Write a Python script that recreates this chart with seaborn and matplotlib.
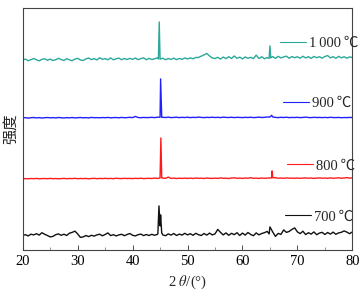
import numpy as np
import matplotlib
matplotlib.use('Agg')
import matplotlib.pyplot as plt
import seaborn as sns
import pandas as pd
from matplotlib.lines import Line2D
from matplotlib.legend import Legend
from matplotlib.ticker import MultipleLocator

# XRD patterns, 2theta grid every 0.5 deg (20..80), intensities
two_theta = np.linspace(20, 80, 121)

int_1000 = [0, 0.8, -0.8, 0.3, 1.4, 0.2, -0.9, 0.6, 1.2, -0.4,
            0.8, -0.6, 0.2, 1.6, 0.4, -0.5, 1.2, 0.1, -0.8, 0.9,
            1.6, 0.0, -0.6, 1.0, 1.9, 0.3, 1.3, 0.0, 2.2, 0.6,
            1.3, 0.2, 2.0, 0.1, 1.2, 1.8, 0.2, 1.5, 0.4, 1.6,
            0.5, 1.9, 0.3, 1.3, 2.1, 0.2, 1.6, 0.4, 1.2, 2.0,
            0.8, 1.8, 0.2, 1.4, 0.5, 1.8, 0.3, 1.5, 0.6, 2.0,
            1.0, 2.0, 1.2, 2.4, 2.5, 3.8, 5.0, 6.5, 4.0, 2.0,
            1.4, 2.6, 0.9, 2.9, 1.3, 3.2, 1.5, 3.9, 1.6, 2.8,
            1.0, 3.0, 1.6, 2.6, 1.3, 4.8, 1.4, 3.2, 1.2, 2.4,
            14.0, 3.4, 1.5, 3.6, 2.0, 3.0, 3.8, 1.6, 3.4, 2.2,
            3.2, 1.7, 3.7, 2.0, 3.3, 1.5, 3.5, 2.2, 3.2, 1.8,
            3.4, 4.4, 2.0, 3.3, 1.6, 3.6, 2.1, 3.2, 1.7, 3.0,
            2.4]
int_900 = [0, 0.3, -0.2, 0.2, 0.4, 0, 0.3, -0.1, 0.2, 0.4,
           0.1, 0.3, 0, 0.4, 0.2, -0.1, 0.3, 0.1, 0.4, 0,
           0.2, 0.4, 0.1, 0.3, 0, 0.5, 0.2, 0.3, 0.1, 0.4,
           0.2, 0.5, 0.1, 0.3, 0.4, 0.1, 0.5, 0.2, 0.3, 0.6,
           0.3, 1.5, 0.4, 0.2, 0.5, 0.3, 0.4, 0.6, 0.3, 0.7,
           0.7, 0.6, 0.4, 0.8, 0.3, 0.5, 0.7, 0.3, 0.6, 0.4,
           0.7, 0.3, 0.6, 0.4, 0.8, 0.5, 0.3, 0.6, 0.4, 0.7,
           0.4, 0.6, 0.3, 0.8, 0.5, 0.4, 0.7, 0.3, 0.6, 0.5,
           0.3, 0.6, 0.4, 0.7, 0.3, 0.5, 0.8, 0.4, 0.6, 0.9,
           0.9, 1.0, 0.5, 0.3, 0.6, 0.4, 0.7, 0.3, 0.5, 0.4,
           0.6, 0.3, 0.5, 0.8, 0.4, 0.3, 0.6, 0.4, 0.5, 0.3,
           0.5, 0.3, 0.6, 0.4, 0.3, 0.5, 0.2, 0.4, 0.3, 0.5,
           0.4]
int_800 = [0, 0.3, 0.1, 0.4, 0.2, 0.5, 0.1, 0.3, 0.4, 0.2,
           0.5, 0.2, 0.4, 0.1, 0.3, 0.5, 0.2, 0.4, 0.3, 0.6,
           0.2, 0.4, 0.3, 0.5, 0.1, 0.4, 0.6, 0.2, 0.5, 0.3,
           0.6, 0.3, 0.5, 0.2, 0.7, 0.4, 0.3, 0.6, 0.4, 0.5,
           0.3, 0.6, 0.4, 0.7, 0.3, 0.5, 0.6, 0.4, 0.8, 0.5,
           0.9, 0.9, 0.6, 1.8, 0.5, 0.8, 0.4, 0.7, 0.5, 0.8,
           0.5, 0.8, 0.4, 0.9, 0.6, 0.7, 0.4, 0.9, 0.6, 0.5,
           0.8, 0.5, 1.0, 0.6, 0.7, 0.4, 0.9, 1.1, 0.6, 0.8,
           0.5, 0.9, 0.7, 1.2, 0.6, 0.8, 0.5, 0.9, 0.6, 0.8,
           1.0, 1.2, 1.2, 0.7, 0.9, 0.6, 1.0, 0.7, 0.8, 0.6,
           0.9, 0.6, 0.8, 1.0, 0.7, 0.9, 0.5, 0.8, 1.0, 0.7,
           0.9, 0.6, 1.0, 0.7, 0.8, 1.1, 0.7, 0.9, 1.3, 0.8,
           1.0]
int_700 = [0.5, 1.2, 0.0, 1.7, 1.0, 2.2, 0.8, 3.2, 1.6, 0.4,
           -1.0, -0.5, 1.2, 2.0, 0.6, 1.7, 0.4, 2.7, 3.5, 4.8,
           2.0, -1.5, -1.0, 0.4, -0.7, 0.6, -0.2, 1.0, 1.7, 0.1,
           1.4, 3.0, 0.3, 1.2, 0.0, 1.0, 1.6, 0.2, 1.4, 2.4,
           0.6, 0.0, 1.2, 1.8, 0.3, 1.4, 0.4, 1.6, 0.6, 1.5,
           10.0, 1.0, 0.2, 2.0, 0.8, 2.4, 0.4, 1.8, 0.8, 2.6,
           1.0, 2.2, 0.6, 2.6, 1.2, 0.4, 2.4, 0.8, 2.8, 1.0,
           2.0, 6.5, 3.5, 1.0, 3.0, 0.6, 2.6, 1.2, 3.2, 0.4,
           2.8, 0.8, 3.4, 1.4, 0.2, 3.0, 1.0, 2.4, 3.2, 4.5,
           9.0, 4.0, -0.5, 2.5, 1.5, 6.0, 3.5, 4.5, 6.5, 8.0,
           4.0, 2.3, 4.7, 1.3, 3.2, 1.8, 4.0, 1.2, 2.8, 3.6,
           1.4, 3.4, 1.8, 3.8, 1.6, 3.0, 3.6, 5.0, 3.8, 2.2,
           4.0]

# sharp diffraction peaks, sampled finer than the grid
peak_x_1000 = [44.7, 44.85, 64.85, 65.15]
peak_y_1000 = [1.0, 38.0, 1.5, 2.0]
peak_x_900 = [45.1, 45.3, 65.3]
peak_y_900 = [39.0, 0.6, 2.6]
peak_x_800 = [45.15, 45.3, 65.3, 65.4]
peak_y_800 = [41.0, 1.0, 1.0, 8.0]
peak_x_700 = [44.6, 44.8, 45.1, 45.3, 64.85]
peak_y_700 = [2.0, 30.0, 21.0, 3.0, 2.0]

labels = ['700\u2009℃', '800\u2009℃', '900\u2009℃', '1\u2009000\u2009℃']
offsets = [14, 71, 132, 190]
colors = ['#111111', '#ff1a1a', '#2020ff', '#2aa899']

series = [(int_700, peak_x_700, peak_y_700),
          (int_800, peak_x_800, peak_y_800),
          (int_900, peak_x_900, peak_y_900),
          (int_1000, peak_x_1000, peak_y_1000)]

frames = []
for lab, off, (vals, px, py) in zip(labels, offsets, series):
    x = np.concatenate([two_theta, px])
    y = np.concatenate([vals, py]) + off
    frames.append(pd.DataFrame({'x': x, 'y': y, 'temp': lab}))
df = pd.concat(frames, ignore_index=True)

sns.set_style('ticks')
plt.rcParams['font.family'] = ['Liberation Serif', 'Noto Sans CJK SC']
plt.rcParams['mathtext.fontset'] = 'stix'

fig = plt.figure(figsize=(3.64, 2.94), dpi=100)
ax = fig.add_axes([0.0624, 0.150, 0.9056, 0.823])

sns.lineplot(data=df, x='x', y='y', hue='temp', hue_order=labels,
             palette=colors, legend=False, estimator=None, sort=True,
             linewidth=1.0, ax=ax)

ax.set_xlim(20, 80)
ax.set_ylim(0, 242)
ax.set_yticks([])
ax.xaxis.set_major_locator(MultipleLocator(10))
ax.xaxis.set_minor_locator(MultipleLocator(5))
ax.tick_params(axis='x', which='major', direction='in', length=3.5, width=0.6,
               labelsize=10.5, pad=4, colors='#333333', labelcolor='black')
ax.tick_params(axis='x', which='minor', direction='in', length=2, width=0.5,
               colors='#666666')
for s in ax.spines.values():
    s.set_linewidth(0.8)
    s.set_color('#444444')

ax.set_xlabel('2 $\\theta$/(°)', fontsize=10.5, labelpad=4)
ax.set_ylabel('强度', fontsize=11, family=['Noto Sans CJK SC'], labelpad=3)

# one small legend next to each curve
anchors = [(0.796, 0.136), (0.802, 0.347), (0.790, 0.607), (0.781, 0.855)]
for lab, col, anc in zip(labels, colors, anchors):
    leg = Legend(ax, [Line2D([], [], color=col, lw=0.8)], [lab],
                 loc='center left', bbox_to_anchor=anc, frameon=False,
                 handlelength=1.8, handletextpad=0.15, borderpad=0,
                 borderaxespad=0, fontsize=10.5)
    ax.add_artist(leg)

fig.savefig('out.png', dpi=100)
